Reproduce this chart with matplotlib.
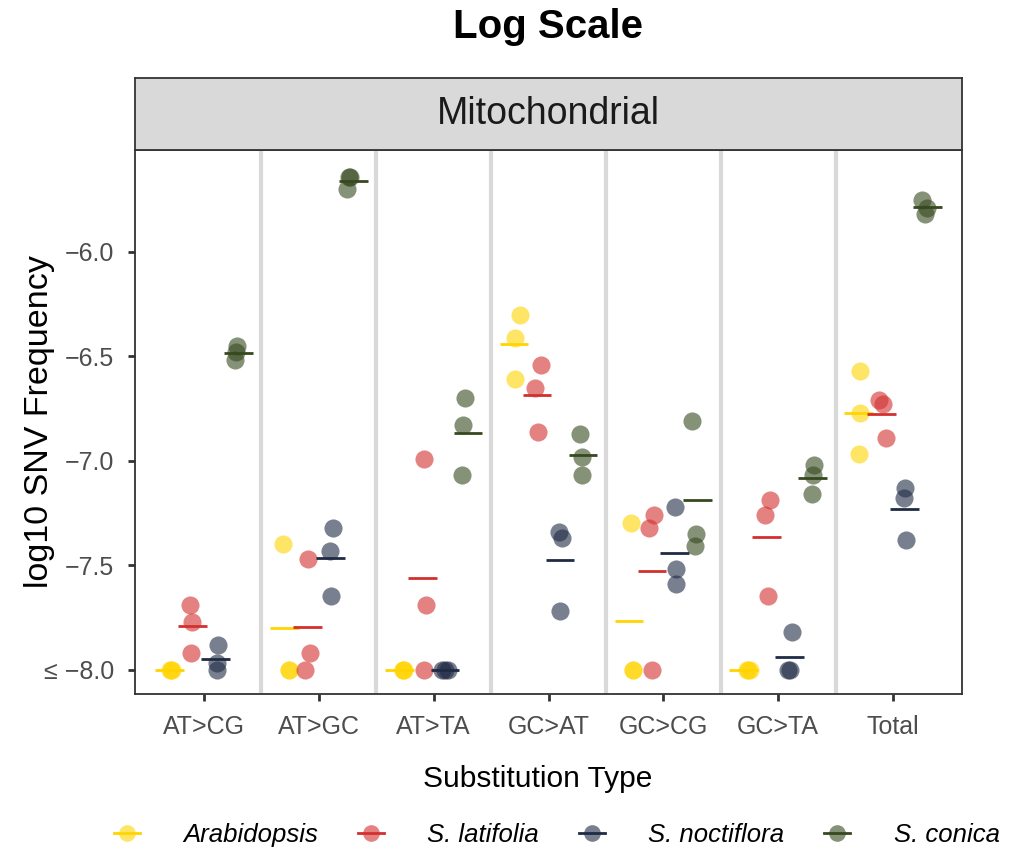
import numpy as np
import matplotlib.pyplot as plt
from matplotlib.lines import Line2D

plt.rcParams['font.family'] = ['Liberation Sans', 'DejaVu Sans']

# substitution classes on the x axis
categories = ['AT>CG', 'AT>GC', 'AT>TA', 'GC>AT', 'GC>CG', 'GC>TA', 'Total']
species = ['Arabidopsis', 'S. latifolia', 'S. noctiflora', 'S. conica']

# log10 SNV frequency, three replicates per substitution class (floored at -8)
arabidopsis = [[-8.00, -8.00, -8.00], [-7.40, -8.00, -8.00], [-8.00, -8.00, -8.00],
               [-6.30, -6.41, -6.61], [-7.30, -8.00, -8.00], [-8.00, -8.00, -8.00],
               [-6.57, -6.77, -6.97]]
latifolia = [[-7.69, -7.77, -7.92], [-7.47, -7.92, -8.00], [-6.99, -7.69, -8.00],
             [-6.54, -6.65, -6.86], [-7.26, -7.32, -8.00], [-7.19, -7.26, -7.65],
             [-6.71, -6.73, -6.89]]
noctiflora = [[-7.88, -7.97, -8.00], [-7.32, -7.43, -7.65], [-8.00, -8.00, -8.00],
              [-7.34, -7.37, -7.72], [-7.22, -7.52, -7.59], [-7.82, -8.00, -8.00],
              [-7.13, -7.18, -7.38]]
conica = [[-6.45, -6.48, -6.52], [-5.64, -5.64, -5.70], [-6.70, -6.83, -7.07],
          [-6.87, -6.98, -7.07], [-6.81, -7.35, -7.41], [-7.02, -7.07, -7.16],
          [-5.75, -5.79, -5.82]]

# small horizontal jitter of each replicate (category units)
jitter_arabidopsis = [[0.005, 0.012, 0.020], [-0.009, 0.038, 0.038], [0.030, 0.035, 0.045],
                      [0.052, 0.012, 0.012], [0.020, 0.035, 0.035], [0.032, 0.040, 0.050],
                      [0.012, 0.015, 0.003]]
jitter_latifolia = [[-0.017, 0.000, -0.012], [0.003, 0.020, -0.017], [0.020, 0.032, 0.012],
                    [0.035, -0.020, 0.006], [0.015, -0.023, 0.003], [0.029, -0.017, 0.015],
                    [-0.023, 0.012, 0.038]]
jitter_noctiflora = [[0.020, 0.015, 0.012], [0.023, -0.006, 0.009], [-0.030, 0.000, 0.025],
                     [-0.006, 0.017, 0.003], [-0.003, 0.009, 0.006], [0.020, -0.015, 0.005],
                     [0.000, -0.006, 0.009]]
jitter_conica = [[-0.012, -0.020, -0.029], [-0.041, -0.032, -0.052], [-0.029, -0.044, -0.050],
                 [-0.026, -0.006, -0.012], [-0.047, -0.015, -0.026], [0.012, 0.003, -0.006],
                 [-0.047, -0.006, -0.026]]

colors = ['#FFD400', '#D32F2F', '#1F2A44', '#36491F']
values = [arabidopsis, latifolia, noctiflora, conica]
jitters = [jitter_arabidopsis, jitter_latifolia, jitter_noctiflora, jitter_conica]
dodge = [-0.3, -0.1, 0.1, 0.3]

W, H = 1033, 852
fig = plt.figure(figsize=(W / 100, H / 100), dpi=100)
ax = fig.add_axes([135 / W, 1 - 694 / H, 827 / W, 544 / H])

x = np.arange(1, len(categories) + 1)

# light separators between substitution classes
for b in x[:-1] + 0.5:
    ax.axvline(b, color='#D9D9D9', lw=3, zorder=0)

for k in range(len(species)):
    v = np.array(values[k])
    j = np.array(jitters[k])
    xs = x[:, None] + dodge[k] + j
    ax.scatter(xs.ravel(), v.ravel(), s=170, color=colors[k], alpha=0.6,
               linewidths=0, zorder=2)
    means = v.mean(axis=1)
    ax.hlines(means, x + dodge[k] - 0.125, x + dodge[k] + 0.125,
              color=colors[k], lw=2, zorder=3)

ax.set_xlim(0.4, 7.6)
ax.set_ylim(-8.117, -5.512)
ax.set_xticks(x)
ax.set_xticklabels(categories)
yt = [-8.0, -7.5, -7.0, -6.5, -6.0]
ax.set_yticks(yt)
ax.set_yticklabels(['\u2264 \u22128.0'] + ['\u2212%.1f' % abs(t) for t in yt[1:]])
ax.tick_params(axis='both', labelsize=18, labelcolor='#4D4D4D', color='#333333',
               length=5, width=2, pad=10)
for s in ax.spines.values():
    s.set_color('#333333')
    s.set_linewidth(1.3)

# facet strip
sax = fig.add_axes([135 / W, 1 - 150 / H, 827 / W, 72 / H])
sax.set_facecolor('#D9D9D9')
sax.set_xticks([])
sax.set_yticks([])
for s in sax.spines.values():
    s.set_color('#333333')
    s.set_linewidth(1.3)
sax.text(0.5, 0.5, 'Mitochondrial', ha='center', va='center', fontsize=27,
         color='#1A1A1A', transform=sax.transAxes)

fig.text(548 / W, 1 - 27 / H, 'Log Scale', ha='center', va='center',
         fontsize=29, fontweight='bold')
fig.text(538 / W, 1 - 779 / H, 'Substitution Type', ha='center', va='center',
         fontsize=21.5)
fig.text(40 / W, 1 - 422 / H, 'log10 SNV Frequency', ha='center', va='center',
         rotation=90, fontsize=24.5)

handles = []
for c in colors:
    dot = Line2D([], [], marker='o', ls='none', markersize=12, color=c,
                 alpha=0.6, markeredgewidth=0)
    bar = Line2D([], [], color=c, lw=2)
    handles.append((dot, bar))
fig.legend(handles, species, loc='center', bbox_to_anchor=(0.539, 0.02), ncol=4,
           frameon=False, prop={'style': 'italic', 'size': 18.5},
           handlelength=1.0, handletextpad=1.7, columnspacing=1.55, borderpad=0)

fig.savefig('out.png', dpi=100)
